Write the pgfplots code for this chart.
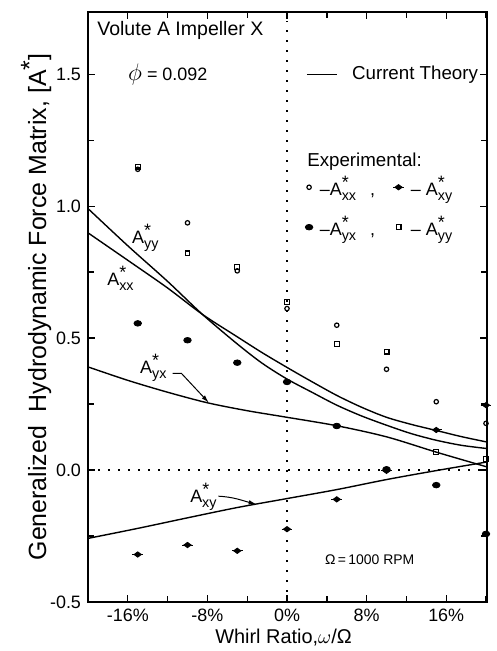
\documentclass[border=0pt]{standalone}
\usepackage{fontspec}
\setmainfont{Liberation Sans}
\usepackage{amsmath}
\usepackage{graphicx}
\usepackage{pgfplots}
\pgfplotsset{compat=1.18}
\usetikzlibrary{arrows.meta,calc}

% A* with subscript, lettering style
\newcommand\Ast[1]{A\rlap{\raisebox{0.7ex}{*}}\raisebox{-0.55ex}{\scalebox{0.8}{#1}}}

% A_xy marker: filled diamond with a short bar
\pgfdeclareplotmark{xybar}{%
  \pgfpathmoveto{\pgfqpoint{-1.7\pgfplotmarksize}{0pt}}%
  \pgfpathlineto{\pgfqpoint{1.7\pgfplotmarksize}{0pt}}%
  \pgfusepathqstroke
  \pgfpathmoveto{\pgfqpoint{-1.1\pgfplotmarksize}{0pt}}%
  \pgfpathlineto{\pgfqpoint{0pt}{0.8\pgfplotmarksize}}%
  \pgfpathlineto{\pgfqpoint{1.1\pgfplotmarksize}{0pt}}%
  \pgfpathlineto{\pgfqpoint{0pt}{-0.8\pgfplotmarksize}}%
  \pgfpathclose
  \pgfusepathqfillstroke}

\begin{document}
\begin{tikzpicture}
\begin{axis}[
    name=ax,
    scale only axis,
    width=199.5bp, height=295bp,
    xmin=-20, xmax=20.1, ymin=-0.5, ymax=1.736,
    clip=false,
    axis line style={line width=0.9pt},
    xtick={-16,-8,0,8,16},
    xticklabels={-16\%,-8\%,0\%,8\%,16\%},
    minor xtick={-20,-12,-4,4,12,20},
    ytick={-0.5,0,0.5,1,1.5},
    yticklabels={-0.5,0.0,0.5,1.0,1.5},
    minor ytick={-0.25,0.25,0.75,1.25},
    tick pos=both, tick align=inside,
    major tick length=3.5bp, minor tick length=3bp,
    every tick/.style={line width=0.7pt, black},
    tick label style={font=\fontsize{9}{10}\selectfont},
    xlabel={Whirl Ratio,$\omega$/Ω},
    ylabel={Generalized\ \ Hydrodynamic Force Matrix, [A\raisebox{0.6ex}{*}]},
    xlabel style={font=\fontsize{10}{12}\selectfont, at={(axis description cs:0.49,-0.06)}, anchor=center},
    ylabel style={font=\fontsize{12.5}{14}\selectfont, at={(axis description cs:-0.13,0.5)}, anchor=center},
    legend columns=2,
    legend cell align=left,
    legend style={draw=none, fill=none, at={(axis cs:1.8,1.13)}, anchor=north west,
      inner sep=0pt, font=\fontsize{9}{11}\selectfont, row sep=5bp,
      /tikz/every even column/.append style={column sep=7bp}},
    legend image code/.code={\draw[mark repeat=2,mark phase=2,#1] plot coordinates {(0cm,0cm) (0.12cm,0cm) (0.24cm,0cm)};},
]
% experimental points
\addplot[only marks, mark=o, mark size=1.1bp, mark options={line width=0.6pt}]
  coordinates {(-15,1.14) (-10,0.937) (-5,0.755) (0,0.612) (5,0.549) (10,0.382) (15,0.259) (20,0.177)};
\addlegendentry{\,–\Ast{xx}\hspace{7bp},}
\addplot[only marks, mark=xybar, mark size=1.6bp, mark options={line width=0.5pt}]
  coordinates {(-15,-0.320) (-10,-0.284) (-5,-0.306) (0,-0.224) (5,-0.111) (10,-0.003) (15,0.152) (20,0.246)};
\addlegendentry{\,–\ \Ast{xy}}
\addplot[only marks, mark=*, mark size=1.4bp, mark options={xscale=1.35}]
  coordinates {(-15,0.556) (-10,0.492) (-5,0.407) (0,0.334) (5,0.167) (10,0.003) (15,-0.057) (20,-0.242)};
\addlegendentry{\,–\Ast{yx}\hspace{7bp},}
\addplot[only marks, mark=square, mark size=1.2bp, mark options={line width=0.6pt}]
  coordinates {(-15,1.15) (-10,0.821) (-5,0.770) (0,0.638) (5,0.477) (10,0.449) (15,0.069) (20,0.042)};
\addlegendentry{\,–\ \Ast{yy}}

% current theory
\addplot[smooth, line width=0.7pt, forget plot] coordinates {
  (-20,0.899) (-16,0.795) (-12,0.690) (-8.5,0.590) (-5,0.505) (-2.5,0.445)
  (0,0.389) (2.5,0.335) (5,0.283) (7.5,0.238) (10,0.200) (12.5,0.173)
  (15,0.150) (17.5,0.127) (20,0.107)};
\addplot[smooth, line width=0.7pt, forget plot] coordinates {
  (-20,0.991) (-16,0.850) (-12,0.715) (-8.5,0.590) (-5,0.478) (-2.5,0.405)
  (0,0.345) (2.5,0.295) (5,0.246) (7.5,0.205) (10,0.170) (12.5,0.138)
  (15,0.113) (17.5,0.094) (20,0.082)};
\addplot[smooth, line width=0.7pt, forget plot] coordinates {
  (-20,0.391) (-16,0.340) (-12,0.295) (-8,0.255) (-4,0.225) (0,0.200)
  (5,0.168) (10,0.126) (15,0.068) (20,0.013)};
\addplot[smooth, line width=0.7pt, forget plot] coordinates {
  (-20,-0.259) (-15,-0.221) (-10,-0.181) (-5,-0.142) (0,-0.108)
  (5,-0.074) (10,-0.036) (15,-0.002) (20,0.030)};

% dotted zero lines
\addplot[forget plot, line width=0.8pt, dash pattern=on 0.8bp off 4.2bp] coordinates {(-20,0) (20.1,0)};
\addplot[forget plot, line width=0.8pt, dash pattern=on 0.8bp off 4.2bp] coordinates {(0,-0.5) (0,1.70)};

% curve labels and arrows
\node[anchor=west, inner sep=0pt, font=\fontsize{9}{11}\selectfont] at (axis cs:-15.6,0.88) {\Ast{yy}};
\node[anchor=west, inner sep=0pt, font=\fontsize{9}{11}\selectfont] at (axis cs:-18.1,0.727) {\Ast{xx}};
\node[anchor=west, inner sep=0pt, font=\fontsize{9}{11}\selectfont] at (axis cs:-14.8,0.386) {\Ast{yx}};
\node[anchor=west, inner sep=0pt, font=\fontsize{9}{11}\selectfont] at (axis cs:-9.76,-0.101) {\Ast{xy}};
\draw[line width=0.5pt, -{Latex[length=4bp,width=2.2bp]}]
  (axis cs:-11.5,0.366) -- (axis cs:-10.6,0.366) -- (axis cs:-7.85,0.255);
\draw[line width=0.5pt, -{Latex[length=4bp,width=2.2bp]}]
  (axis cs:-6.9,-0.099) to[out=-3,in=165] (axis cs:-3.05,-0.130);

% texts
\node[anchor=west, inner sep=0pt, font=\fontsize{9.8}{11}\selectfont] at (axis cs:-19.1,1.667) {Volute A Impeller X};
\node[anchor=west, inner sep=0pt, font=\fontsize{9}{11}\selectfont] at (axis cs:-16,1.5) {{\large$\phi$} = 0.092};
\draw[line width=0.7pt] (axis cs:2.0,1.5) -- (axis cs:5.0,1.5);
\node[anchor=west, inner sep=0pt, font=\fontsize{9.4}{11}\selectfont] at (axis cs:6.5,1.5) {Current Theory};
\node[anchor=west, inner sep=0pt, font=\fontsize{9.4}{11}\selectfont] at (axis cs:2.0,1.167) {Experimental:};
\node[anchor=west, inner sep=0pt, font=\fontsize{7}{8}\selectfont] at (axis cs:3.8,-0.34) {Ω\,=\,1000 RPM};
\end{axis}
\pgfresetboundingbox
\path ($(ax.south west)+(-44bp,-24.5bp)$) rectangle ($(ax.north east)+(5bp,6bp)$);
\end{tikzpicture}
\end{document}
